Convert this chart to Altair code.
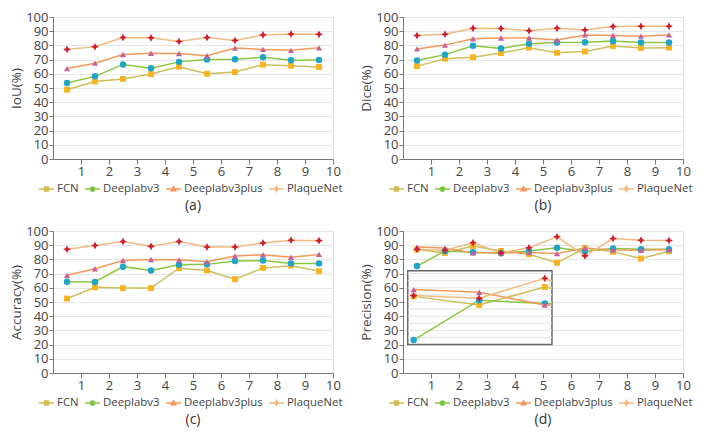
import altair as alt
import pandas as pd

# ---------------- data ----------------
X_POS = [0.5, 1.5, 2.5, 3.5, 4.5, 5.5, 6.5, 7.5, 8.5, 9.5]
SERIES = ["FCN", "Deeplabv3", "Deeplabv3plus", "PlaqueNet"]

IOU_FCN = [48.8, 54.6, 56.4, 59.8, 65.0, 60.0, 61.2, 66.4, 65.7, 64.8]
IOU_DLV3 = [53.5, 58.2, 66.6, 63.9, 68.4, 70.0, 70.2, 71.6, 69.5, 69.8]
IOU_DLV3P = [63.7, 67.5, 73.6, 74.5, 74.3, 72.7, 78.1, 77.2, 76.5, 78.3]
IOU_PN = [77.2, 79.0, 85.6, 85.3, 82.8, 85.6, 83.5, 87.4, 88.0, 87.8]

DICE_FCN = [65.4, 70.6, 71.7, 74.6, 78.4, 74.8, 75.7, 79.6, 78.2, 78.4]
DICE_DLV3 = [69.4, 73.5, 79.8, 77.8, 81.1, 82.0, 82.2, 83.1, 82.0, 82.0]
DICE_DLV3P = [77.5, 80.2, 84.7, 85.2, 85.2, 83.8, 87.4, 87.0, 86.5, 87.4]
DICE_PN = [87.0, 87.9, 92.1, 91.9, 90.3, 92.1, 90.8, 93.3, 93.5, 93.5]

ACC_FCN = [52.4, 60.3, 59.8, 59.8, 73.8, 72.2, 66.1, 74.0, 75.6, 71.8]
ACC_DLV3 = [64.3, 64.1, 74.9, 72.2, 76.3, 76.5, 78.8, 79.2, 77.2, 77.2]
ACC_DLV3P = [68.8, 73.4, 79.2, 79.9, 79.7, 78.3, 82.4, 83.3, 81.5, 83.5]
ACC_PN = [87.1, 89.8, 92.6, 89.2, 92.6, 88.7, 88.7, 91.6, 93.5, 93.2]

PREC_FCN = [86.9, 84.6, 89.4, 85.9, 83.6, 77.6, 88.0, 85.3, 80.6, 85.7]
PREC_DLV3 = [75.3, 85.9, 85.0, 84.3, 85.9, 88.2, 85.7, 87.6, 87.1, 87.1]
PREC_DLV3P = [88.7, 88.0, 84.6, 84.8, 84.8, 84.1, 88.0, 86.6, 86.4, 86.9]
PREC_PN = [87.1, 86.4, 91.7, 84.6, 88.2, 95.9, 82.5, 94.7, 93.5, 93.3]

X_TICKS = [1, 2, 3, 4, 5, 6, 7, 8, 9, 10]
Y_TICKS = [0, 10, 20, 30, 40, 50, 60, 70, 80, 90, 100]

# ---------------- style ----------------
FONT = "Open Sans"
LINE_COLORS = ["#cbbf5c", "#8cc63f", "#f39a5b", "#f1bb80"]
MARKER_COLORS = ["#f7b21d", "#1fa5c8", "#c5619d", "#cf1f30"]
STAR = "M0,-1L0.33,-0.33L1,0L0.33,0.33L0,1L-0.33,0.33L-1,0L-0.33,-0.33Z"
MARKER_SHAPES = ["square", "circle", "triangle-up", STAR]
MARKER_SIZES = [34, 42, 38, 62]
LEGEND_PATHS = [
    "M-1,0H1M-0.26,-0.26H0.26V0.26H-0.26Z",
    "M-1,0H1M-0.28,0C-0.28,-0.37 0.28,-0.37 0.28,0C0.28,0.37 -0.28,0.37 -0.28,0Z",
    "M-1,0H1M0,-0.32L0.32,0.24H-0.32Z",
    "M-1,0H1M0,-0.35L0.11,-0.11L0.35,0L0.11,0.11L0,0.35L-0.11,0.11L-0.35,0L-0.11,-0.11Z",
]
AXIS_COL = "#777777"
TEXT_COL = "#444444"
PW, PH = 280, 142
LEGEND_W = 310

# inset of panel (d): zoomed domain and its frame in main-chart units
INSET_DOM_X = (0.41, 2.61)
INSET_DOM_Y = (74.1, 93.7)
INSET_BOX_X = (0.17, 5.32)
INSET_BOX_Y = (20.0, 72.0)


def xenc(field="x"):
    return alt.X(f"{field}:Q", scale=alt.Scale(domain=[0, 10], nice=False, zero=False),
                 axis=alt.Axis(values=X_TICKS, format="d", title=None, grid=False,
                               domainColor=AXIS_COL, tickColor=AXIS_COL, tickSize=5,
                               labelFontSize=13, labelColor=TEXT_COL, labelFont=FONT,
                               labelPadding=1, labelFlush=False))


def yenc(title, field="value"):
    return alt.Y(f"{field}:Q", scale=alt.Scale(domain=[0, 100], nice=False),
                 axis=alt.Axis(values=Y_TICKS, title=title, grid=True, gridColor="#e6e6e6",
                               domainColor=AXIS_COL, tickColor=AXIS_COL, tickSize=4,
                               labelFontSize=13, labelColor=TEXT_COL, labelFont=FONT,
                               labelPadding=1, titleFontSize=13.5, titleFont=FONT,
                               titleFontWeight="normal", titleColor=TEXT_COL, titlePadding=2))


def panel(series_vals, ytitle, caption, inset=False):
    rows = []
    for s, arr in zip(SERIES, series_vals):
        for xv, v in zip(X_POS, arr):
            rows.append({"x": xv, "series": s, "value": v})
    df = pd.DataFrame(rows)
    base = alt.Chart(df)
    layers = []
    for i, s in enumerate(SERIES):
        layers.append(base.transform_filter(alt.datum.series == s)
                      .mark_line(strokeWidth=1.5, color=LINE_COLORS[i])
                      .encode(x=xenc(), y=yenc(ytitle), order="x:Q"))
    for i, s in enumerate(SERIES):
        layers.append(base.transform_filter(alt.datum.series == s)
                      .mark_point(filled=True, opacity=1, shape=MARKER_SHAPES[i],
                                  size=MARKER_SIZES[i], color=MARKER_COLORS[i], strokeWidth=0)
                      .encode(x=xenc(), y=yenc(ytitle)))
    if inset:
        sx = (INSET_BOX_X[1] - INSET_BOX_X[0]) / (INSET_DOM_X[1] - INSET_DOM_X[0])
        sy = (INSET_BOX_Y[1] - INSET_BOX_Y[0]) / (INSET_DOM_Y[1] - INSET_DOM_Y[0])
        box = pd.DataFrame([{"x": INSET_BOX_X[0], "x_end": INSET_BOX_X[1],
                             "value": INSET_BOX_Y[0], "value_end": INSET_BOX_Y[1]}])
        layers.append(alt.Chart(box).mark_rect(fill="white", stroke="#666666", strokeWidth=1.5)
                      .encode(x=xenc(), x2="x_end", y=yenc(ytitle), y2="value_end"))
        grid = (alt.Chart(alt.sequence(25, 71, 5, as_="value"))
                .transform_calculate(x=f"{INSET_BOX_X[0]}", x_end=f"{INSET_BOX_X[1]}")
                .mark_rule(color="#e3e3e3", strokeWidth=1)
                .encode(x=xenc(), x2="x_end", y=yenc(ytitle)))
        layers.append(grid)
        x1 = INSET_DOM_X[1]
        for i, s in enumerate(SERIES):
            ib = (base.transform_filter(alt.datum.series == s)
                  .transform_filter(alt.datum.x <= 3.5)
                  .transform_window(prev_x="lag(x)", prev_v="lag(value)", sort=[alt.SortField("x")])
                  .transform_calculate(
                      cv=f"datum.x > {x1} ? datum.prev_v + (datum.value - datum.prev_v) * ({x1} - datum.prev_x) / (datum.x - datum.prev_x) : datum.value",
                      cx=f"datum.x > {x1} ? {x1} : datum.x")
                  .transform_calculate(
                      x=f"{INSET_BOX_X[0]} + (datum.cx - {INSET_DOM_X[0]}) * {sx}",
                      value=f"{INSET_BOX_Y[0]} + (datum.cv - {INSET_DOM_Y[0]}) * {sy}",
                      orig_x="datum.cx"))
            layers.append(ib.mark_line(strokeWidth=1.5, color=LINE_COLORS[i])
                          .encode(x=xenc(), y=yenc(ytitle), order="orig_x:Q"))
            layers.append(ib.transform_filter(alt.datum.orig_x <= 2.5)
                          .mark_point(filled=True, opacity=1, shape=MARKER_SHAPES[i],
                                      size=MARKER_SIZES[i], color=MARKER_COLORS[i], strokeWidth=0)
                          .encode(x=xenc(), y=yenc(ytitle)))
    leg = alt.Legend(orient="none", direction="horizontal", title=None, symbolSize=225,
                     legendX=(PW - LEGEND_W) / 2, legendY=PH + 21,
                     symbolStrokeWidth=1.5, labelFontSize=11.4, labelFont=FONT, labelColor=TEXT_COL,
                     columnPadding=3, labelOffset=2, symbolOpacity=1, padding=0)
    legend_layer = (base.transform_filter("false")
                    .mark_point(filled=True, opacity=1, size=225, strokeWidth=1.5)
                    .encode(x=xenc(), y=yenc(ytitle),
                            shape=alt.Shape("series:N", scale=alt.Scale(domain=SERIES, range=LEGEND_PATHS), legend=leg),
                            fill=alt.Fill("series:N", scale=alt.Scale(domain=SERIES, range=MARKER_COLORS), legend=leg),
                            stroke=alt.Stroke("series:N", scale=alt.Scale(domain=SERIES, range=LINE_COLORS), legend=leg)))
    layers.append(legend_layer)
    return alt.layer(*layers).properties(
        width=PW, height=PH,
        title=alt.TitleParams(caption, orient="bottom", anchor="middle", frame="group",
                              fontSize=14, fontWeight="normal", font=FONT, color="#333333", offset=4))


pa = panel([IOU_FCN, IOU_DLV3, IOU_DLV3P, IOU_PN], "IoU(%)", "(a)")
pb = panel([DICE_FCN, DICE_DLV3, DICE_DLV3P, DICE_PN], "Dice(%)", "(b)")
pc = panel([ACC_FCN, ACC_DLV3, ACC_DLV3P, ACC_PN], "Accuracy(%)", "(c)")
pd_ = panel([PREC_FCN, PREC_DLV3, PREC_DLV3P, PREC_PN], "Precision(%)", "(d)", inset=True)


def hc(l, r):
    return (alt.hconcat(l, r, spacing=70, bounds="flush")
            .resolve_scale(shape="independent", fill="independent", stroke="independent")
            .resolve_legend(shape="independent", fill="independent", stroke="independent"))


chart = (alt.vconcat(hc(pa, pb), hc(pc, pd_), spacing=10)
         .resolve_scale(shape="independent", fill="independent", stroke="independent")
         .resolve_legend(shape="independent", fill="independent", stroke="independent")
         .properties(padding={"left": 1, "top": 2, "right": 0, "bottom": 0})
         .configure_view(stroke=None)
         .configure(font=FONT))

chart.save("out.html", embed_options={"renderer": "svg", "actions": False})
